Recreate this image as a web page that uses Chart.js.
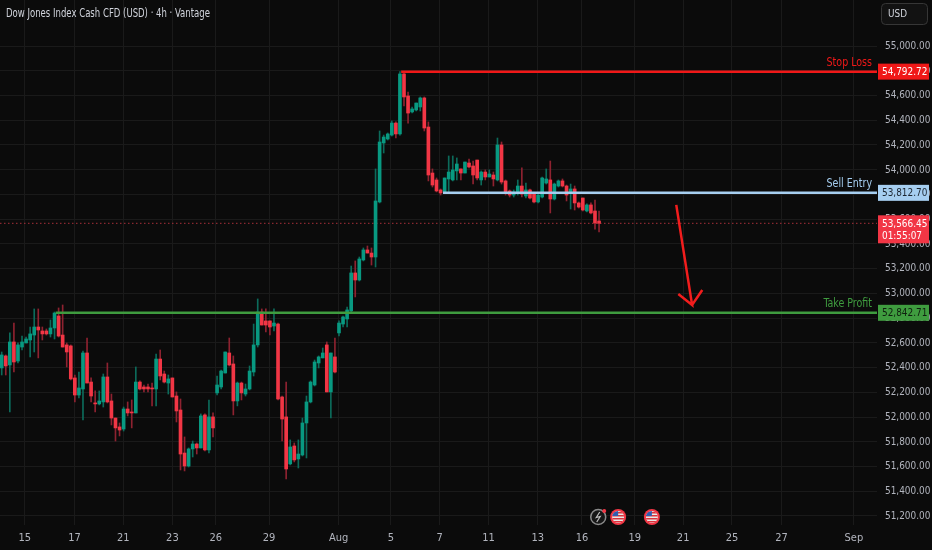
<!DOCTYPE html>
<html lang="en">
<head>
<meta charset="UTF-8">
<title>Dow Jones Index Cash CFD (USD) 4h</title>
<script src="https://cdn.jsdelivr.net/npm/chart.js"></script>
<style>
  html, body { margin: 0; padding: 0; background: #0b0b0b; }
  #wrap { width: 932px; height: 550px; }
</style>
</head>
<body>
<div id="wrap"><canvas id="myChart" width="932" height="550"></canvas></div>
<script>
// 4h candles, one per slot, left to right
var opens = [
  52397,52494,52421,52607,52453,52566,52599,52623,52663,52728,
  52696,52696,52672,52720,52817,52663,52583,52575,52316,52178,
  52227,52518,52283,52114,52106,52122,52324,52130,51992,51920,
  51903,52065,52041,52033,52283,52243,52243,52235,52227,52469,
  52348,52275,52316,52170,52057,51709,51604,51742,51782,51750,
  52017,51734,52001,52195,52243,52356,52518,52429,52130,52275,
  52186,52227,52364,52583,52849,52777,52777,52736,52752,52162,
  52001,51621,51766,51661,51693,51952,52122,52259,52437,52478,
  52583,52203,52486,52680,52752,52793,52858,53165,53108,53270,
  53351,53326,53294,53739,54216,54248,54280,54377,54289,54774,
  54596,54467,54483,54507,54580,54345,53973,53917,53836,53820,
  53925,53917,53990,54006,53973,54054,54030,54078,53917,53981,
  53941,53957,53917,54200,53909,53828,53795,53812,53868,53787,
  53836,53803,53739,53779,53892,53917,53763,53868,53909,53868,
  53812,53844,53731,53771,53666,53715,53666,53585
];
var highs = [
  52526,52502,52680,52760,52599,52655,52647,52728,52874,52874,
  52728,52712,52785,52849,52882,52906,52599,52583,52340,52364,
  52534,52639,52316,52211,52211,52348,52437,52186,51992,51952,
  52081,52122,52138,52405,52292,52259,52267,52275,52510,52542,
  52372,52340,52316,52203,52146,51839,51750,51806,51790,52025,
  52025,52138,52033,52332,52380,52526,52639,52494,52283,52283,
  52267,52413,52752,52955,52874,52874,52777,52874,52760,52170,
  52283,51815,51790,51815,51992,52170,52292,52461,52494,52558,
  52607,52518,52639,52777,52817,52890,53221,53262,53294,53367,
  53383,53367,54006,54313,54280,54297,54394,54386,54793,54790,
  54628,54507,54539,54588,54588,54386,54006,53933,53844,53933,
  54111,54111,54095,54006,54062,54086,54070,54078,53990,53998,
  53998,53981,54256,54224,53917,53836,53836,53917,54014,53892,
  53844,53812,53803,53941,54006,54070,53892,53917,53925,53876,
  53884,53868,53739,53771,53723,53731,53755,53666
];
var lows = [
  52340,52340,52041,52364,52437,52542,52599,52486,52526,52478,
  52623,52663,52647,52631,52647,52566,52405,52300,52122,52154,
  51976,52275,52122,52041,52098,52081,52114,51936,51806,51847,
  51887,52009,51912,52033,52219,52203,52203,52090,52090,52300,
  52275,52186,52162,51960,51572,51564,51596,51677,51701,51750,
  51726,51709,51839,52178,52227,52356,52413,52017,52090,52138,
  52170,52219,52332,52566,52744,52688,52663,52696,52138,51806,
  51499,51613,51637,51588,51685,51669,52114,52251,52397,52478,
  52203,51992,52356,52655,52728,52728,52849,52971,53100,53262,
  53326,53229,53213,53731,54135,54240,54272,54256,54280,54515,
  54377,54458,54475,54475,54313,53909,53860,53820,53795,53812,
  53820,53909,53917,53917,53973,54014,53884,53917,53876,53917,
  53941,53868,53909,53884,53795,53779,53779,53795,53779,53771,
  53763,53731,53731,53771,53884,53650,53755,53860,53860,53747,
  53682,53674,53690,53666,53658,53642,53520,53496
];
var closes = [
  52502,52413,52607,52445,52583,52607,52631,52672,52728,52704,
  52672,52672,52720,52841,52655,52566,52526,52308,52178,52235,
  52518,52275,52170,52106,52130,52324,52122,51992,51912,51895,
  52065,52033,52033,52283,52227,52227,52227,52227,52469,52332,
  52283,52308,52162,52049,51701,51604,51742,51782,51750,52009,
  51734,52001,51912,52259,52372,52526,52421,52130,52275,52195,
  52227,52372,52583,52849,52744,52744,52728,52760,52146,51984,
  51580,51758,51653,51701,51952,52122,52283,52445,52486,52518,
  52203,52518,52364,52760,52809,52866,53165,53108,53278,53351,
  53326,53294,53747,54224,54264,54289,54377,54289,54774,54588,
  54458,54491,54539,54580,54337,53957,53876,53828,53812,53933,
  53981,53998,54046,53973,54062,54022,53957,53933,53981,53941,
  53965,53925,54200,53900,53812,53795,53820,53868,53803,53836,
  53771,53739,53795,53933,53925,53763,53884,53909,53868,53795,
  53844,53731,53698,53674,53715,53650,53569,53566.45
];

// date ticks (position in candle slots) and price ticks
var xTickLabels = ['15','17','21','23','26','29','Aug','5','7','11','13','16','19','21','25','27','Sep'];
var xTickSlots  = [5.7,17.9,29.9,42,52.7,65.8,82.9,95.8,107.8,119.8,131.9,142.8,155.8,167.7,179.7,191.9,209.7];
var yTicks = [51200,51400,51600,51800,52000,52200,52400,52600,52800,53000,
              53200,53400,53600,53800,54000,54200,54400,54600,54800,55000];

// trade levels
var levelNames  = ['Stop Loss', 'Sell Entry', 'Take Profit'];
var levelPrices = [54792.72, 53812.70, 52842.71];
var levelStart  = [98.3, 108.6, 13.3];

// hand drawn arrow (slot, price)
var arrowSlots  = [166.0, 169.9, 166.5, 169.9, 172.4];
var arrowPrices = [53715, 52906, 52995, 52906, 53027];

var lastPrice = 53566.45;
var countdown = '01:55:07';
var title = 'Dow Jones Index Cash CFD (USD) \u00b7 4h \u00b7 Vantage';

var FONT = '"Liberation Sans Narrow", "DejaVu Sans Condensed", Roboto, "Liberation Sans", sans-serif';
var X_MIN = -0.42, X_MAX = 215.4;

var upBody = '#089981', downBody = '#f23645';
var upWick = '#0c6b5b', downWick = '#8e2230';
var levelColors = ['#f01818', '#a6cef0', '#3f9c3f'];
var tagText = ['#ffffff', '#1b2530', '#0f1f0f'];

function fmt(v) {
    return v.toLocaleString('en-US', { minimumFractionDigits: 2, maximumFractionDigits: 2 });
}

// squeezed text, the chart font is narrower than what we have
function narrowText(g, txt, x, y, align, sx) {
    g.save();
    g.translate(x, y);
    g.scale(sx, 1);
    g.textAlign = align;
    g.fillText(txt, 0, 0);
    g.restore();
}

var slots = opens.map(function (o, i) { return i; });
var isUp = slots.map(function (i) { return closes[i] >= opens[i]; });

var datasets = [];

datasets.push({
    type: 'line',
    label: 'arrow',
    data: arrowSlots.map(function (s, i) { return { x: s, y: arrowPrices[i] }; }),
    borderColor: '#f21d1d',
    borderWidth: 2.5,
    pointRadius: 0,
    tension: 0,
    order: 0
});

levelPrices.forEach(function (p, k) {
    datasets.push({
        type: 'line',
        label: levelNames[k],
        data: [{ x: levelStart[k], y: p }, { x: X_MAX, y: p }],
        borderColor: levelColors[k],
        borderWidth: 2.5,
        pointRadius: 0,
        order: 1
    });
});

datasets.push({
    label: 'body',
    data: slots.map(function (i) { return { x: i, y: [opens[i], closes[i]] }; }),
    backgroundColor: slots.map(function (i) { return isUp[i] ? upBody : downBody; }),
    barThickness: 3,
    minBarLength: 1,
    grouped: false,
    order: 2
});

datasets.push({
    label: 'wick',
    data: slots.map(function (i) { return { x: i, y: [lows[i], highs[i]] }; }),
    backgroundColor: slots.map(function (i) { return isUp[i] ? upWick : downWick; }),
    barThickness: 1,
    grouped: false,
    order: 3
});

datasets.push({
    type: 'line',
    label: 'last',
    data: [{ x: X_MIN, y: lastPrice }, { x: X_MAX, y: lastPrice }],
    borderColor: '#a8303b',
    borderWidth: 1,
    borderDash: [1.5, 2.5],
    pointRadius: 0,
    order: 4
});

var overlay = {
    id: 'overlay',
    afterDraw: function (c) {
        var g = c.ctx, ys = c.scales.y, xs = c.scales.x, area = c.chartArea;
        g.save();
        g.textBaseline = 'middle';

        g.font = '12px ' + FONT;
        g.fillStyle = '#d1d4dc';
        narrowText(g, title, 6, 14, 'left', 0.79);

        // price scale labels
        g.font = '11px ' + FONT;
        g.fillStyle = '#b2b5be';
        yTicks.forEach(function (v) {
            narrowText(g, fmt(v), area.right + 8, ys.getPixelForValue(v), 'left', 0.9);
        });

        // USD button
        g.beginPath();
        g.roundRect(881.5, 3.5, 46, 21, 4);
        g.fillStyle = '#121212';
        g.fill();
        g.strokeStyle = '#363636';
        g.lineWidth = 1;
        g.stroke();
        g.fillStyle = '#d1d4dc';
        g.font = '11px ' + FONT;
        narrowText(g, 'USD', 888, 14.5, 'left', 0.9);

        // level names and price tags
        levelPrices.forEach(function (p, k) {
            var py = ys.getPixelForValue(p);
            g.font = '12px ' + FONT;
            g.fillStyle = levelColors[k];
            narrowText(g, levelNames[k], area.right - 5, py - 9, 'right', 0.88);
            g.fillRect(area.right + 1, py - 8, 51, 16);
            g.font = '11px ' + FONT;
            g.fillStyle = tagText[k];
            narrowText(g, fmt(p), area.right + 5, py + 0.5, 'left', 0.9);
        });

        // last price tag with countdown
        var ly = ys.getPixelForValue(lastPrice);
        g.fillStyle = '#f23645';
        g.fillRect(area.right + 1, ly - 8, 51, 28);
        g.fillStyle = '#ffffff';
        g.font = '11px ' + FONT;
        narrowText(g, fmt(lastPrice), area.right + 5, ly + 0.5, 'left', 0.9);
        narrowText(g, countdown, area.right + 5, ly + 13, 'left', 0.9);

        // economic event markers near the time axis
        var ey = area.bottom - 8;
        var ex = [xs.getPixelForValue(146.8), xs.getPixelForValue(151.7), xs.getPixelForValue(160.0)];
        g.lineWidth = 1.5;
        g.beginPath(); g.arc(ex[0], ey, 7.5, 0, Math.PI * 2);
        g.fillStyle = '#161616'; g.fill();
        g.strokeStyle = '#8a8a8a'; g.stroke();
        g.beginPath();
        g.moveTo(ex[0] + 1.5, ey - 5); g.lineTo(ex[0] - 2, ey + 0.5); g.lineTo(ex[0] + 2, ey - 0.5); g.lineTo(ex[0] - 1.5, ey + 5);
        g.strokeStyle = '#bdbdbd'; g.lineWidth = 1.2; g.stroke();
        g.beginPath(); g.arc(ex[0] + 6, ey - 6, 2, 0, Math.PI * 2); g.fillStyle = '#f23645'; g.fill();
        [ex[1], ex[2]].forEach(function (cx) {
            g.beginPath(); g.arc(cx, ey, 8, 0, Math.PI * 2);
            g.fillStyle = '#f23645'; g.fill();
            g.beginPath(); g.arc(cx, ey, 6, 0, Math.PI * 2);
            g.fillStyle = '#e8e8e8'; g.fill();
            g.save();
            g.beginPath(); g.arc(cx, ey, 6, 0, Math.PI * 2); g.clip();
            g.fillStyle = '#d9343c';
            for (var s = -5; s < 6; s += 3) g.fillRect(cx - 6, ey + s, 12, 1.5);
            g.fillStyle = '#2f5db0';
            g.fillRect(cx - 6, ey - 6, 6, 5);
            g.restore();
        });

        g.restore();
    }
};

Chart.defaults.font.family = FONT;
Chart.defaults.font.size = 11;
Chart.defaults.color = '#b2b5be';

var ctx = document.getElementById('myChart').getContext('2d');
var myChart = new Chart(ctx, {
    type: 'bar',
    data: { datasets: datasets },
    options: {
        responsive: false,
        animation: false,
        layout: { padding: 0 },
        plugins: {
            legend: { display: false },
            tooltip: { enabled: false }
        },
        scales: {
            x: {
                type: 'linear',
                position: 'bottom',
                min: X_MIN,
                max: X_MAX,
                bounds: 'data',
                offset: false,
                grid: { color: '#1a1a1a', drawTicks: false, offset: false },
                border: { display: false },
                afterBuildTicks: function (s) {
                    s.ticks = xTickSlots.map(function (v) { return { value: v }; });
                },
                afterFit: function (s) {
                    s.height = 25;
                    s.paddingLeft = 0;
                    s.paddingRight = 0;
                },
                ticks: {
                    autoSkip: false,
                    maxRotation: 0,
                    padding: 7,
                    color: '#b2b5be',
                    callback: function (v, i) { return xTickLabels[i]; }
                }
            },
            y: {
                type: 'linear',
                position: 'right',
                min: 51127,
                max: 55372,
                bounds: 'data',
                grid: { color: '#1a1a1a', drawTicks: false },
                border: { display: false },
                afterBuildTicks: function (s) {
                    s.ticks = yTicks.map(function (v) { return { value: v }; });
                },
                afterFit: function (s) {
                    s.width = 55;
                    s.paddingTop = 0;
                    s.paddingBottom = 0;
                },
                ticks: { display: false }
            }
        }
    },
    plugins: [overlay]
});
</script>
</body>
</html>
